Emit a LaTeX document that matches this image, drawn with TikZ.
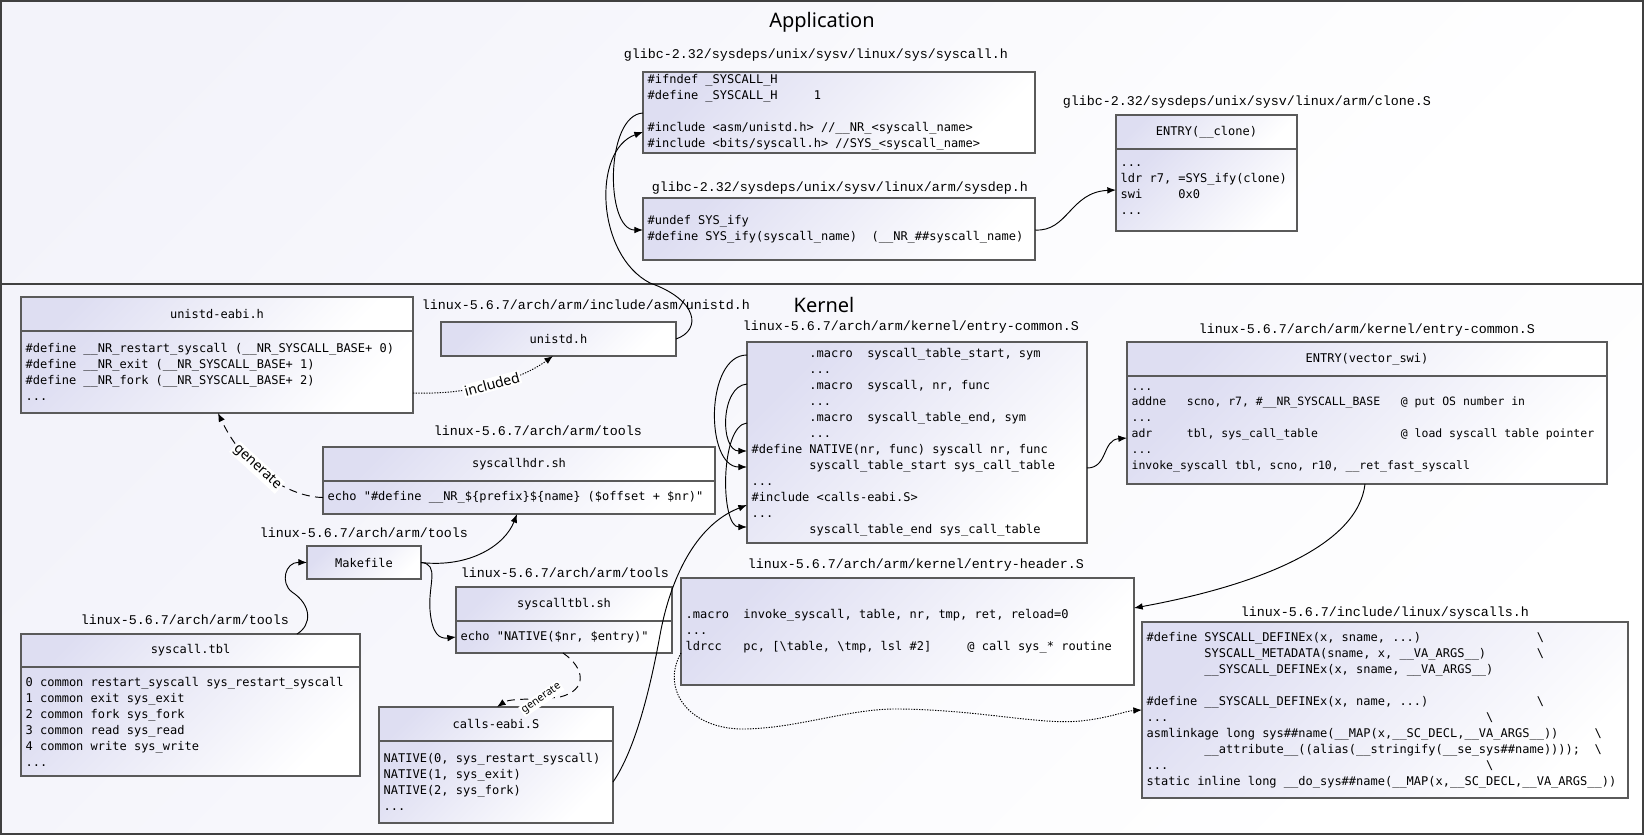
\documentclass[tikz,border=0pt]{standalone}
\usepackage{fontspec}
\newfontfamily\codefont{DejaVu Sans Mono}
\newfontfamily\pathfont{Liberation Mono}
\newfontfamily\labelfont{Noto Sans}
\usetikzlibrary{arrows.meta,positioning}
\definecolor{lav}{RGB}{222,222,242}
\definecolor{boxline}{RGB}{90,90,90}
\definecolor{frameline}{RGB}{64,64,64}
\newcommand\csp[1]{\hspace*{#1\fontcharwd\font`0}}
\tikzset{>={Latex[length=6.5pt,width=5pt]}}
\tikzset{filebox/.style={draw=boxline, line width=0.9pt, outer sep=0pt, top color=lav, bottom color=white, shading angle=45, anchor=north west}}
\tikzset{headbox/.style 2 args={filebox, minimum width=#1*0.75pt, minimum height=#2*0.75pt, inner sep=0pt, font=\codefont\fontsize{9}{12}\selectfont}}
\tikzset{codebox/.style 2 args={filebox, text width=#1*0.75pt-7pt, minimum height=#2*0.75pt, inner xsep=3.5pt, inner ysep=1pt, align=flush left, font=\codefont\fontsize{9}{12}\selectfont\frenchspacing}}
\tikzset{filepath/.style={font=\pathfont\fontsize{10}{12}\selectfont}}
\tikzset{conn/.style={->, line width=0.7pt}}
\tikzset{tag/.style={font=\labelfont\fontsize{10.5}{12}\selectfont, fill=white, inner sep=1pt}}
\tikzset{region/.style={draw=frameline, line width=1.1pt, top color=lav!35, bottom color=white, shading angle=45}}

\begin{document}
\begin{tikzpicture}[x=0.75pt,y=-0.75pt]
\useasboundingbox (0,0) rectangle (1645,836);
\draw[region] (1,1) rectangle (1643,284);
\draw[region] (1,284) rectangle (1643,834);
\node[font=\labelfont\fontsize{15}{18}\selectfont] (app) at (822,22) {Application};
\node[font=\labelfont\fontsize{15}{18}\selectfont] (kern) at (824,305) {Kernel};

\node[filepath] (lsysh) at (816,55) {glibc-2.32/sysdeps/unix/sysv/linux/sys/syscall.h};
\node[codebox={392}{81}] (sysh) at (643,72) {\#ifndef \_SYSCALL\_H\\
\#define \_SYSCALL\_H\csp{5}1\\
\mbox{}\\
\#include <asm/unistd.h> //\_\_NR\_<syscall\_name>\\
\#include <bits/syscall.h> //SYS\_<syscall\_name>};
\node[filepath] (lsysdep) at (840,188) {glibc-2.32/sysdeps/unix/sysv/linux/arm/sysdep.h};
\node[codebox={392}{62}] (sysdep) at (643,198) {\#undef SYS\_ify\\
\#define SYS\_ify(syscall\_name)\csp{2}(\_\_NR\_\#\#syscall\_name)};
\node[filepath] (lclone) at (1247,102) {glibc-2.32/sysdeps/unix/sysv/linux/arm/clone.S};
\node[headbox={181}{34}] (clonehead) at (1116,115) {ENTRY(\_\_clone)};
\node[codebox={181}{82}, below=0pt of clonehead] (clonebody) {...\\
ldr r7, =SYS\_ify(clone)\\
swi\csp{5}0x0\\
...};

\node[headbox={392}{34}] (eabihead) at (21,297) {unistd-eabi.h};
\node[codebox={392}{82}, below=0pt of eabihead] (eabibody) {\#define \_\_NR\_restart\_syscall (\_\_NR\_SYSCALL\_BASE+ 0)\\
\#define \_\_NR\_exit (\_\_NR\_SYSCALL\_BASE+ 1)\\
\#define \_\_NR\_fork (\_\_NR\_SYSCALL\_BASE+ 2)\\
...};
\node[filepath] (lunistd) at (586,305) {linux-5.6.7/arch/arm/include/asm/unistd.h};
\node[headbox={235}{34}] (unistd) at (441,322) {unistd.h};
\node[filepath] (lecom) at (911,327) {linux-5.6.7/arch/arm/kernel/entry-common.S};
\node[codebox={340}{201}] (ecom) at (747,342) {\csp{8}.macro\csp{2}syscall\_table\_start, sym\\
\csp{8}...\\
\csp{8}.macro\csp{2}syscall, nr, func\\
\csp{8}...\\
\csp{8}.macro\csp{2}syscall\_table\_end, sym\\
\csp{8}...\\
\#define NATIVE(nr, func) syscall nr, func\\
\csp{8}syscall\_table\_start sys\_call\_table\\
...\\
\#include <calls-eabi.S>\\
...\\
\csp{8}syscall\_table\_end sys\_call\_table};
\node[filepath] (lvswi) at (1367,330) {linux-5.6.7/arch/arm/kernel/entry-common.S};
\node[headbox={480}{34}] (vswihead) at (1127,342) {ENTRY(vector\_swi)};
\node[codebox={480}{108}, below=0pt of vswihead, font=\codefont\fontsize{8.6}{11.85}\selectfont\frenchspacing] (vswibody) {...\\
addne\csp{3}scno, r7, \#\_\_NR\_SYSCALL\_BASE\csp{3}@ put OS number in\\
...\\
adr\csp{5}tbl, sys\_call\_table\csp{12}@ load syscall table pointer\\
...\\
invoke\_syscall tbl, scno, r10, \_\_ret\_fast\_syscall};
\node[filepath] (lhdr) at (538,431) {linux-5.6.7/arch/arm/tools};
\node[headbox={392}{34}] (hdrhead) at (323,447) {syscallhdr.sh};
\node[codebox={392}{33}, below=0pt of hdrhead] (hdrbody) {echo "\#define \_\_NR\_\$\{prefix\}\$\{name\} (\$offset + \$nr)"};
\node[filepath] (lmk) at (364,533) {linux-5.6.7/arch/arm/tools};
\node[headbox={114}{33}] (mk) at (307,546) {Makefile};
\node[filepath] (ltblsh) at (565,573) {linux-5.6.7/arch/arm/tools};
\node[headbox={216}{34}] (tblshhead) at (456,587) {syscalltbl.sh};
\node[codebox={216}{32}, below=0pt of tblshhead] (tblshbody) {echo "NATIVE(\$nr, \$entry)"};
\node[filepath] (ltbl) at (185,620) {linux-5.6.7/arch/arm/tools};
\node[headbox={339}{33}] (tblhead) at (21,634) {syscall.tbl};
\node[codebox={339}{109}, below=0pt of tblhead] (tblbody) {0 common restart\_syscall sys\_restart\_syscall\\
1 common exit sys\_exit\\
2 common fork sys\_fork\\
3 common read sys\_read\\
4 common write sys\_write\\
...};
\node[headbox={234}{34}] (callshead) at (379,707) {calls-eabi.S};
\node[codebox={234}{82}, below=0pt of callshead] (callsbody) {NATIVE(0, sys\_restart\_syscall)\\
NATIVE(1, sys\_exit)\\
NATIVE(2, sys\_fork)\\
...};
\node[filepath] (lehdr) at (916,565) {linux-5.6.7/arch/arm/kernel/entry-header.S};
\node[codebox={453}{107}] (ehdr) at (681,578) {.macro\csp{2}invoke\_syscall, table, nr, tmp, ret, reload=0\\
...\\
ldrcc\csp{3}pc, [\textbackslash table, \textbackslash tmp, lsl \#2]\csp{5}@ call sys\_* routine};
\node[filepath] (lsysc) at (1385,613) {linux-5.6.7/include/linux/syscalls.h};
\node[codebox={486}{176}] (sysc) at (1142,622) {\#define SYSCALL\_DEFINEx(x, sname, ...)\csp{16}\textbackslash\\
\csp{8}SYSCALL\_METADATA(sname, x, \_\_VA\_ARGS\_\_)\csp{7}\textbackslash\\
\csp{8}\_\_SYSCALL\_DEFINEx(x, sname, \_\_VA\_ARGS\_\_)\\
\mbox{}\\
\#define \_\_SYSCALL\_DEFINEx(x, name, ...)\csp{15}\textbackslash\\
...\csp{44}\textbackslash\\
asmlinkage long sys\#\#name(\_\_MAP(x,\_\_SC\_DECL,\_\_VA\_ARGS\_\_))\csp{5}\textbackslash\\
\csp{8}\_\_attribute\_\_((alias(\_\_stringify(\_\_se\_sys\#\#name))));\csp{2}\textbackslash\\
...\csp{44}\textbackslash\\
static inline long \_\_do\_sys\#\#name(\_\_MAP(x,\_\_SC\_DECL,\_\_VA\_ARGS\_\_))};

\draw[conn] (sysh.west |- 0,113) .. controls (605,115) and (605,230) .. (sysdep.west |- 0,230);
\draw[conn] (unistd.east) .. controls (702,330) and (698,300) .. (650,283) .. controls (596,255) and (592,150) .. (sysh.west |- 0,132);
\draw[conn] (sysdep.east |- 0,230) .. controls (1068,232) and (1070,192) .. (clonebody.west |- 0,190);
\draw[conn, dash pattern=on 1pt off 1pt] (eabibody.east |- 0,393) .. controls (470,395) and (520,380) .. (unistd.south -| 553,0) node[tag, pos=0.5, sloped] (inc) {included};
\draw[conn, dash pattern=on 6pt off 4pt] (hdrbody.west) .. controls (290,497) and (245,470) .. (eabibody.south -| 218,0) node[tag, pos=0.6, sloped] (gen1) {generate};
\draw[conn] (mk.east) .. controls (470,568) and (505,545) .. (hdrbody.south -| 517,0);
\draw[conn] (mk.east) .. controls (440,564) and (428,585) .. (430,610) .. controls (432,635) and (440,639) .. (tblshbody.west);
\draw[conn] (tblhead.north -| 297,0) .. controls (312,625) and (312,605) .. (292,592) .. controls (280,583) and (285,562) .. (mk.west);
\draw[conn, dash pattern=on 6pt off 4pt] (tblshbody.south -| 563,0) .. controls (585,668) and (588,690) .. (560,697) .. controls (535,700) and (510,698) .. (callshead.north -| 497,0) node[tag, pos=0.25, rotate=35, font=\labelfont\fontsize{8}{10}\selectfont] (gen2) {generate};
\draw[conn] (callsbody.east |- 0,782) .. controls (635,750) and (650,690) .. (660,635) .. controls (670,580) and (695,525) .. (ecom.west |- 0,505);
\draw[conn] (ecom.west |- 0,355) .. controls (705,355) and (705,467) .. (ecom.west |- 0,467);
\draw[conn] (ecom.west |- 0,384) .. controls (720,386) and (720,451) .. (ecom.west |- 0,451);
\draw[conn] (ecom.west |- 0,423) .. controls (720,425) and (720,527) .. (ecom.west |- 0,527);
\draw[conn] (ecom.east |- 0,468) .. controls (1108,468) and (1102,440) .. (vswibody.west |- 0,438);
\draw[conn] (vswibody.south -| 1365,0) .. controls (1358,545) and (1260,585) .. (ehdr.east |- 0,608);
\draw[conn, dash pattern=on 1pt off 1pt] (ehdr.west |- 0,653) .. controls (660,690) and (690,730) .. (745,729) .. controls (800,728) and (850,708) .. (900,709) .. controls (980,710) and (1040,725) .. (1080,721) .. controls (1110,718) and (1125,711) .. (sysc.west |- 0,710);
\end{tikzpicture}
\end{document}
